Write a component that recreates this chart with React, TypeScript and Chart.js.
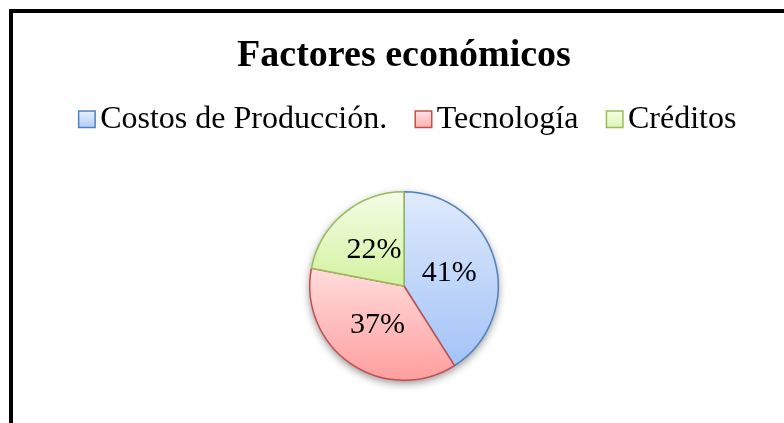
import { useEffect, useRef } from "react";
import { Chart, registerables } from "chart.js";

Chart.register(...registerables);

const chartTitle = "Factores económicos";
const categories = ["Costos de Producción.", "Tecnología", "Créditos"];
const values = [41, 37, 22];
const valueLabels = ["41%", "37%", "22%"];
const borderColors = ["#4f81bd", "#c0504d", "#9bbb59"];
const gradTop = ["#dfeafc", "#ffdcdc", "#f4fce6"];
const gradBottom = ["#a3c3f7", "#ff9e9e", "#d3f2a0"];
const legendTop = ["#e6effd", "#ffe4e4", "#f6fdea"];
const legendBottom = ["#b3cdf7", "#ffb0b0", "#dcf5b3"];

const FONT = "'Liberation Serif', 'Times New Roman', serif";

function arcYRange(cy: number, r: number, s: number, e: number) {
  const ys = [cy, cy + r * Math.sin(s), cy + r * Math.sin(e)];
  for (let k = -2; k <= 2; k++) {
    const top = -Math.PI / 2 + 2 * Math.PI * k;
    const bot = Math.PI / 2 + 2 * Math.PI * k;
    if (top >= s && top <= e) ys.push(cy - r);
    if (bot >= s && bot <= e) ys.push(cy + r);
  }
  return [Math.min(...ys), Math.max(...ys)];
}

const framePlugin = {
  id: "frame",
  beforeDraw(chart: any) {
    const ctx = chart.ctx;
    ctx.save();
    ctx.fillStyle = "#ffffff";
    ctx.fillRect(0, 0, chart.width, chart.height);
    ctx.strokeStyle = "#000000";
    ctx.lineWidth = 4;
    ctx.strokeRect(11, 11, chart.width + 40, chart.height + 40);
    ctx.restore();
  },
};

const sliceStylePlugin = {
  id: "sliceStyle",
  beforeDatasetsDraw(chart: any) {
    const ctx = chart.ctx;
    const meta = chart.getDatasetMeta(0);
    if (!meta.data.length) return;
    const first = meta.data[0];
    const { x, y, outerRadius } = first.getProps(["x", "y", "outerRadius"], true);
    ctx.save();
    ctx.shadowColor = "rgba(0,0,0,0.45)";
    ctx.shadowBlur = 9;
    ctx.shadowOffsetY = 3;
    ctx.beginPath();
    ctx.arc(x, y, outerRadius, 0, Math.PI * 2);
    ctx.fillStyle = "#ffffff";
    ctx.fill();
    ctx.restore();
    meta.data.forEach((arc: any, i: number) => {
      const p = arc.getProps(["x", "y", "startAngle", "endAngle", "outerRadius"], true);
      const [y0, y1] = arcYRange(p.y, p.outerRadius, p.startAngle, p.endAngle);
      const g = ctx.createLinearGradient(0, y0, 0, y1);
      g.addColorStop(0, gradTop[i]);
      g.addColorStop(1, gradBottom[i]);
      arc.options.backgroundColor = g;
    });
  },
  afterDatasetsDraw(chart: any) {
    const ctx = chart.ctx;
    const meta = chart.getDatasetMeta(0);
    ctx.save();
    ctx.font = `30px ${FONT}`;
    ctx.fillStyle = "#000000";
    ctx.textAlign = "center";
    ctx.textBaseline = "middle";
    meta.data.forEach((arc: any, i: number) => {
      const p = arc.getProps(["x", "y", "startAngle", "endAngle", "outerRadius"], true);
      const mid = (p.startAngle + p.endAngle) / 2;
      const d = p.outerRadius * 0.5;
      ctx.fillText(valueLabels[i], p.x + Math.cos(mid) * d, p.y + Math.sin(mid) * d);
    });
    ctx.restore();
  },
};

const legendPlugin = {
  id: "customLegend",
  afterDraw(chart: any) {
    const ctx = chart.ctx;
    ctx.save();
    ctx.font = `32px ${FONT}`;
    const box = 16.5;
    const boxGap = 5;
    const itemGap = 28;
    const widths = categories.map((c) => ctx.measureText(c).width);
    const total =
      widths.reduce((a, w) => a + box + boxGap + w, 0) + itemGap * (categories.length - 1);
    let x = 407.5 - total / 2;
    const baseline = 128;
    categories.forEach((c, i) => {
      const by = 111;
      const g = ctx.createLinearGradient(0, by, 0, by + box);
      g.addColorStop(0, legendTop[i]);
      g.addColorStop(1, legendBottom[i]);
      ctx.fillStyle = g;
      ctx.fillRect(x, by, box, box);
      ctx.strokeStyle = borderColors[i];
      ctx.lineWidth = 1.5;
      ctx.strokeRect(x, by, box, box);
      ctx.fillStyle = "#000000";
      ctx.textBaseline = "alphabetic";
      ctx.textAlign = "left";
      ctx.fillText(c, x + box + boxGap, baseline);
      x += box + boxGap + widths[i] + itemGap;
    });
    ctx.restore();
  },
};

export default function App() {
  const ref = useRef<HTMLCanvasElement | null>(null);
  useEffect(() => {
    if (!ref.current) return;
    const chart = new Chart(ref.current, {
      type: "pie",
      data: {
        labels: categories,
        datasets: [
          {
            data: values,
            backgroundColor: (c: any) => gradTop[c.dataIndex % gradTop.length],
            borderColor: borderColors,
            borderWidth: 1.5,
          },
        ],
      },
      options: {
        animation: false,
        responsive: false,
        maintainAspectRatio: false,
        layout: { padding: { top: 0, bottom: 42, left: 24, right: 0 } },
        plugins: {
          legend: { display: false },
          tooltip: { enabled: false },
          title: {
            display: true,
            text: chartTitle,
            color: "#000000",
            font: { family: FONT, size: 38, weight: "bold" },
            padding: { top: 33, bottom: 112.4 },
          },
        },
      },
      plugins: [framePlugin, sliceStylePlugin, legendPlugin],
    });
    return () => chart.destroy();
  }, []);
  return (
    <div style={{ position: "fixed", left: 0, top: 0, width: 784, height: 423 }}>
      <canvas ref={ref} width={784} height={423} style={{ width: 784, height: 423 }} />
    </div>
  );
}
